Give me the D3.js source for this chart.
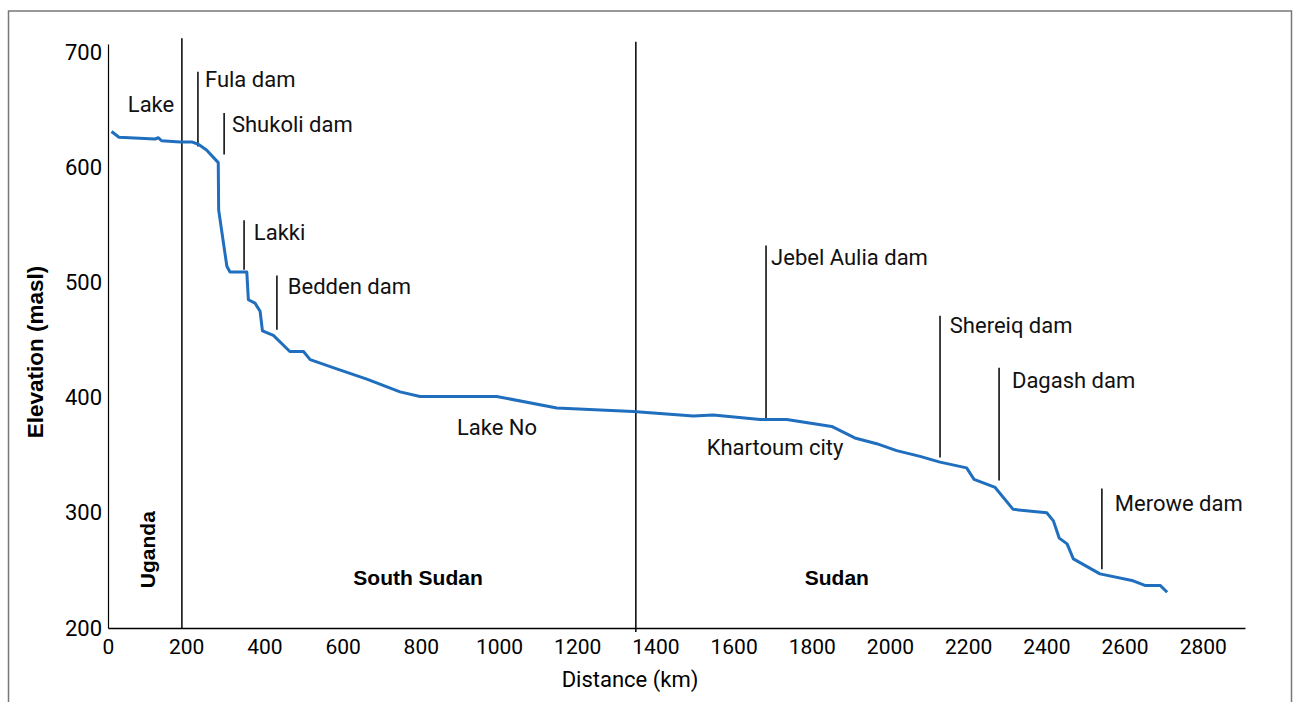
<!DOCTYPE html>
<html><head><meta charset="utf-8">
<script src="https://cdn.jsdelivr.net/npm/d3@7"></script>
<style>
html,body{margin:0;padding:0;background:#fff;}
svg{display:block;}
</style></head>
<body>
<script>
// ---- data (distance km, elevation m a.s.l.) ----
const distanceKm = [9,28,120,129,137,184,214,231,252,282,283,304,312,355,359,376,389,395,423,465,500,517,585,662,747,798,994,1148,1343,1497,1548,1668,1736,1851,1910,1966,2017,2077,2128,2196,2215,2269,2315,2401,2418,2433,2453,2469,2537,2622,2652,2691,2709];
const elevationM = [631,626,624.5,625.6,623,622,622,620,615,604,563,514,509,509,485,482,475,458,454,440,440,433,425,416,405,401,401,391,388,384,385,381,381,375,365,360,354,349,344,339,329,322,303,300,293,278,273,260,247,241,237,237,231];

const xTicks = [0,200,400,600,800,1000,1200,1400,1600,1800,2000,2200,2400,2600,2800];
const yTicks = [200,300,400,500,600,700];

const damNames  = ["Fula dam","Shukoli dam","Lakki","Bedden dam","Jebel Aulia dam","Shereiq dam","Dagash dam","Merowe dam"];
const damKm     = [230,297,348,432,1683,2128,2279,2542];
const damTop    = [683,647,554,506,532,471,426,321];
const damBottom = [618,611,511,459,381,348,328,251];
const damLabelKm   = [248,317,373,460,1696,2153,2312,2575];
const damLabelElev = [669.6,630.6,536.8,489.9,515,456,408,302];

const placeNames = ["Lake","Lake No","Khartoum city"];
const placeKm    = [110,995,1706];
const placeElev  = [648,367.5,350];

const countryNames = ["South Sudan","Sudan"];
const countryKm    = [793,1864];
const countryElev  = [237,237];

const borderKm  = [189,1350];
const borderTop = [712,709];
const borderBottom = [200,196.5];

// ---- layout ----
const W = 1293, H = 702;
const svg = d3.select("body").append("svg").attr("width",W).attr("height",H);

// frame
svg.append("rect").attr("x",8.5).attr("y",11).attr("width",1283).attr("height",720)
  .attr("fill","none").attr("stroke","#777").attr("stroke-width",1.5);

const x = d3.scaleLinear().domain([0,2908]).range([108,1245]);
const y = d3.scaleLinear().domain([200,707]).range([628,44]);

const fontReg = "Roboto, 'Liberation Sans', sans-serif";
const fontBold = "'Liberation Sans', Arial, sans-serif";

// x axis
const gx = svg.append("g").attr("transform",`translate(0,${y(200)})`)
  .call(d3.axisBottom(x).tickValues(xTicks).tickSize(0).tickPadding(11).tickFormat(d3.format("d")));
gx.select(".domain").attr("stroke","#000").attr("stroke-width",1.5);
gx.selectAll("text").attr("font-family",fontReg).attr("font-size",21).attr("fill","#000");

// y axis
const gy = svg.append("g").attr("transform",`translate(${x(0)},0)`)
  .call(d3.axisLeft(y).tickValues(yTicks).tickSize(0).tickPadding(6).tickFormat(d3.format("d")));
gy.select(".domain").attr("stroke","#000").attr("stroke-width",1.2);
gy.selectAll("text").attr("font-family",fontReg).attr("font-size",22).attr("fill","#000");

// axis titles
svg.append("text").attr("x",630).attr("y",687).attr("text-anchor","middle")
  .attr("font-family",fontReg).attr("font-size",22).text("Distance (km)");
svg.append("text").attr("transform","translate(43,352) rotate(-90)").attr("text-anchor","middle")
  .attr("font-family",fontBold).attr("font-weight","bold").attr("font-size",22.5).text("Elevation (masl)");

// borders
svg.selectAll(".border").data(borderKm).enter().append("line")
  .attr("x1",d=>x(d)).attr("x2",d=>x(d))
  .attr("y1",(d,i)=>y(borderTop[i])).attr("y2",(d,i)=>y(borderBottom[i]))
  .attr("stroke","#000").attr("stroke-width",1.5);

// dam leader lines
svg.selectAll(".dam").data(damKm).enter().append("line")
  .attr("x1",d=>x(d)).attr("x2",d=>x(d))
  .attr("y1",(d,i)=>y(damTop[i])).attr("y2",(d,i)=>y(damBottom[i]))
  .attr("stroke","#000").attr("stroke-width",1.5);
svg.selectAll(".damlab").data(damNames).enter().append("text")
  .attr("x",(d,i)=>x(damLabelKm[i])).attr("y",(d,i)=>y(damLabelElev[i]))
  .attr("font-family",fontReg).attr("font-size",22).attr("fill","#111").text(d=>d);

// place labels
svg.selectAll(".plab").data(placeNames).enter().append("text")
  .attr("x",(d,i)=>x(placeKm[i])).attr("y",(d,i)=>y(placeElev[i])).attr("text-anchor","middle")
  .attr("font-family",fontReg).attr("font-size",22).attr("fill","#111").text(d=>d);

// country labels
svg.selectAll(".clab").data(countryNames).enter().append("text")
  .attr("x",(d,i)=>x(countryKm[i])).attr("y",(d,i)=>y(countryElev[i])).attr("text-anchor","middle")
  .attr("font-family",fontBold).attr("font-weight","bold").attr("font-size",21).attr("fill","#000").text(d=>d);
svg.append("text").attr("transform",`translate(${x(120)},${y(268)}) rotate(-90)`).attr("text-anchor","middle")
  .attr("font-family",fontBold).attr("font-weight","bold").attr("font-size",21).text("Uganda");

// profile line
const line = d3.line().x((d,i)=>x(distanceKm[i])).y((d,i)=>y(elevationM[i]));
svg.append("path").datum(distanceKm).attr("d",line)
  .attr("fill","none").attr("stroke","#1f6fbe").attr("stroke-width",3).attr("stroke-linejoin","round");
</script>
</body></html>
